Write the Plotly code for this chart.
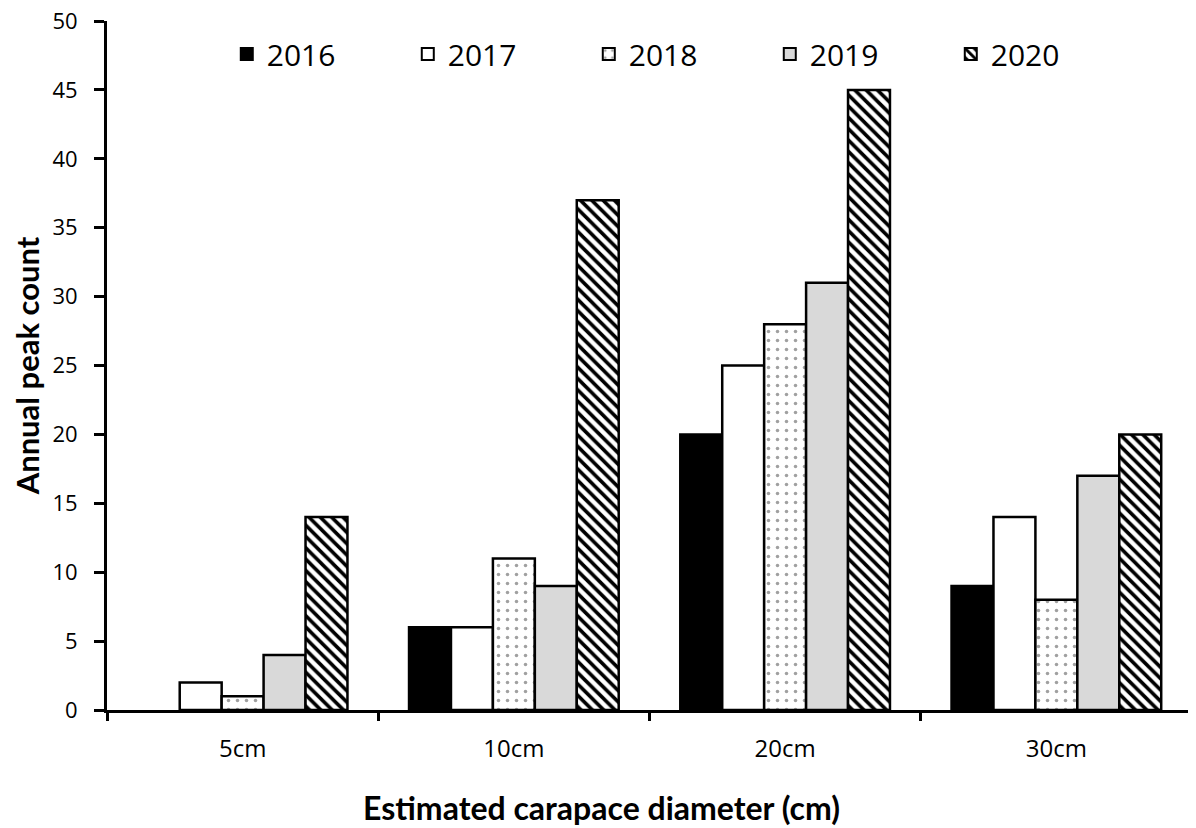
import plotly.graph_objects as go

categories = ["5cm", "10cm", "20cm", "30cm"]
years = ["2016", "2017", "2018", "2019", "2020"]
v2016 = [0, 6, 20, 9]
v2017 = [2, 6, 25, 14]
v2018 = [1, 11, 28, 8]
v2019 = [4, 9, 31, 17]
v2020 = [14, 37, 45, 20]
series = [v2016, v2017, v2018, v2019, v2020]

fills = ["black", "white", "white", "#d9d9d9", "white"]
patterns = [
    dict(shape=""),
    dict(shape=""),
    dict(shape=".", fgcolor="#a0a0a0", bgcolor="white", size=9, solidity=0.12, fgopacity=1),
    dict(shape=""),
    dict(shape="\\", fgcolor="black", bgcolor="white", size=8, solidity=0.45, fgopacity=1),
]

fig = go.Figure()
for name, vals, fc, pat in zip(years, series, fills, patterns):
    fig.add_trace(go.Bar(
        x=categories, y=vals, name=name,
        marker=dict(color=fc, pattern=pat,
                    line=dict(color="black", width=[0 if v == 0 else 2.5 for v in vals])),
    ))

fig.update_layout(
    width=1188, height=820,
    paper_bgcolor="white", plot_bgcolor="white",
    margin=dict(l=99, r=4, t=13, b=118),
    barmode="group", bargap=0.227, bargroupgap=0,
    font=dict(family="Lato", color="black"),
    legend=dict(
        orientation="h", x=0.1104, y=0.952, xanchor="left", yanchor="middle",
        font=dict(family="Open Sans", size=30, color="black"),
        entrywidth=136, entrywidthmode="pixels",
        bgcolor="rgba(0,0,0,0)", itemsizing="constant",
    ),
    showlegend=True,
    annotations=[dict(
        text="<b>Estimated carapace diameter (cm)</b>",
        xref="paper", yref="paper", x=0.456, y=-0.1422,
        xanchor="center", yanchor="middle", showarrow=False,
        font=dict(family="Lato", size=32, color="black"),
    )],
)
fig.update_yaxes(
    range=[0, 50], dtick=5, tick0=0,
    showgrid=False, zeroline=False, automargin=False,
    showline=True, linecolor="black", linewidth=3,
    ticks="outside", ticklen=10, tickwidth=3, tickcolor="black",
    ticklabelstandoff=12, ticklabeloverflow="allow",
    tickfont=dict(family="Open Sans", size=22, color="black"),
    title=dict(text="<b>Annual peak count</b>", font=dict(family="Lato", size=31, color="black"), standoff=4),
)
fig.update_xaxes(
    showgrid=False, zeroline=False, automargin=False,
    showline=True, linecolor="black", linewidth=3,
    ticks="outside", ticklen=8, tickwidth=3, tickcolor="black",
    tickson="boundaries", ticklabelstandoff=15, ticklabeloverflow="allow",
    tickfont=dict(family="Open Sans", size=24, color="black"),
)

fig.write_html("out.html")
